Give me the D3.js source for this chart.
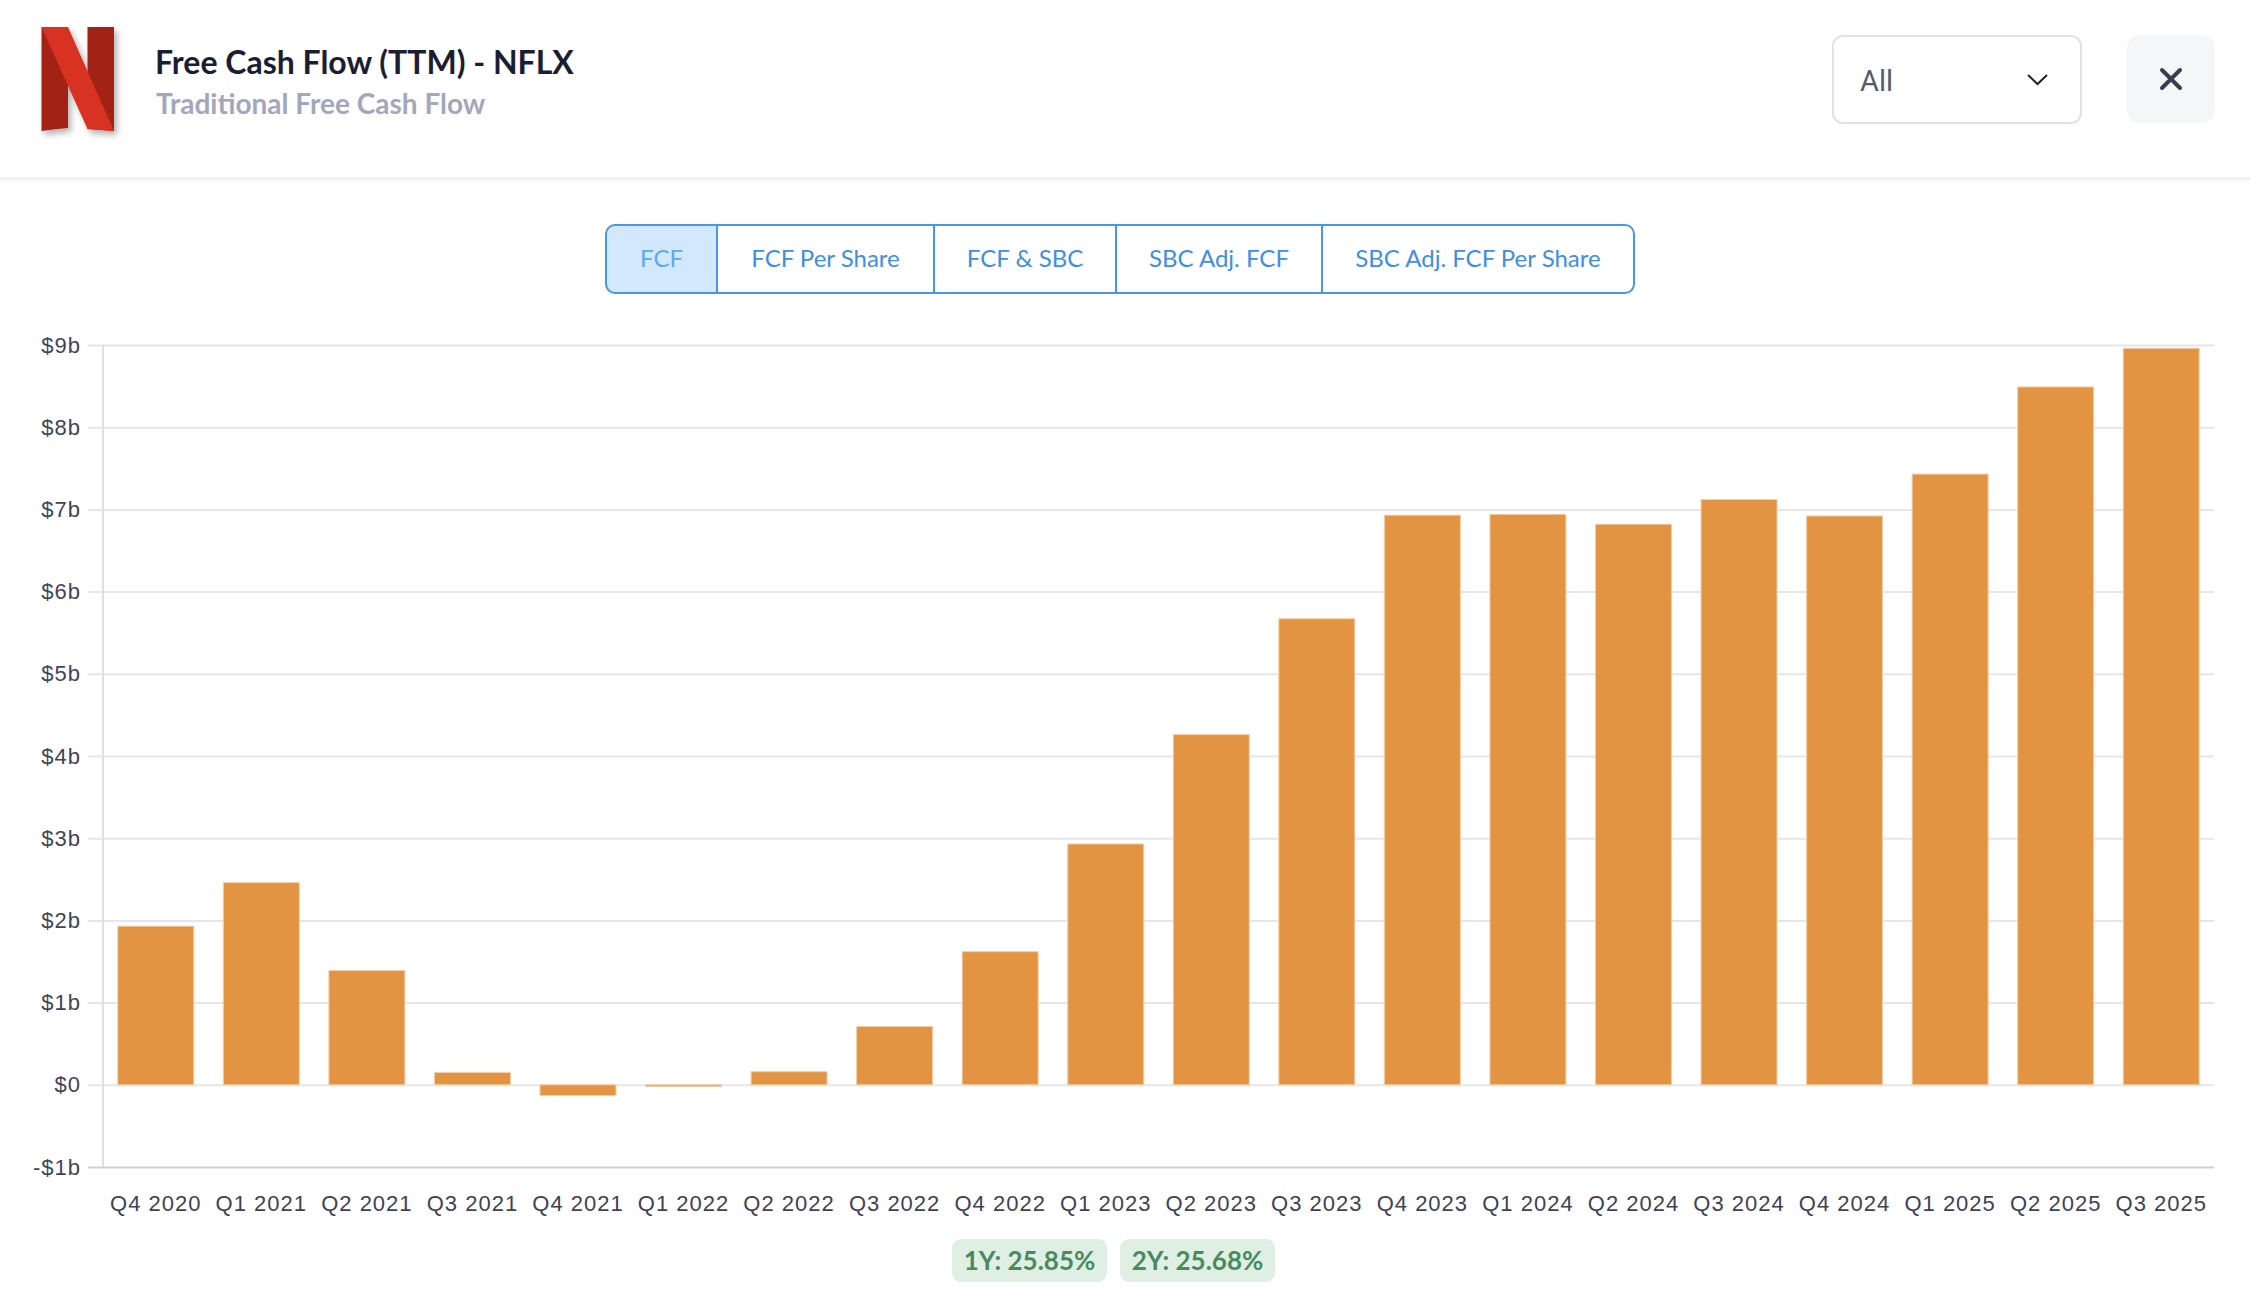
<!DOCTYPE html>
<html>
<head>
<meta charset="utf-8">
<script src="https://cdn.jsdelivr.net/npm/d3@7"></script>
<style>
  body { margin: 0; background: #fff; }
  svg { display: block; }
</style>
</head>
<body>
<div id="chart"></div>
<script>
// chart data
var quarters = ["Q4 2020", "Q1 2021", "Q2 2021", "Q3 2021", "Q4 2021", "Q1 2022", "Q2 2022",
  "Q3 2022", "Q4 2022", "Q1 2023", "Q2 2023", "Q3 2023", "Q4 2023", "Q1 2024", "Q2 2024",
  "Q3 2024", "Q4 2024", "Q1 2025", "Q2 2025", "Q3 2025"];
var fcfBillions = [1.93, 2.46, 1.39, 0.15, -0.13, -0.02, 0.16, 0.71, 1.62, 2.93, 4.26, 5.67,
  6.93, 6.94, 6.82, 7.12, 6.92, 7.43, 8.49, 8.96];
var yTicks = [-1, 0, 1, 2, 3, 4, 5, 6, 7, 8, 9];
var tabLabels = ["FCF", "FCF Per Share", "FCF & SBC", "SBC Adj. FCF", "SBC Adj. FCF Per Share"];
var growthLabels = ["1Y: 25.85%", "2Y: 25.68%"];
var titleText = "Free Cash Flow (TTM) - NFLX";
var subtitleText = "Traditional Free Cash Flow";
var periodText = "All";

var svgWidth = 2250;
var svgHeight = 1294;

var margin = { top: 345, right: 36, bottom: 127, left: 103 };
var width = svgWidth - margin.left - margin.right;
var height = svgHeight - margin.top - margin.bottom;

var svg = d3.select("#chart")
  .append("svg")
  .attr("width", svgWidth)
  .attr("height", svgHeight);

// ---------- header ----------
var header = svg.append("g");

// logo with soft shadow
var defs = svg.append("defs");
var shadow = defs.append("filter").attr("id", "logoShadow")
  .attr("x", "-30%").attr("y", "-30%").attr("width", "160%").attr("height", "160%");
shadow.append("feDropShadow").attr("dx", 3).attr("dy", 4).attr("stdDeviation", 3)
  .attr("flood-color", "#000").attr("flood-opacity", 0.3);

var logo = header.append("g").attr("filter", "url(#logoShadow)");
logo.append("path").attr("d", "M41.5,27 H68 V128 Q55,129 41.5,131 Z").attr("fill", "#a32117");
logo.append("path").attr("d", "M87.5,27 H114 V131 L87.5,129 Z").attr("fill", "#a32117");
logo.append("path").attr("d", "M41.5,27 H68 L114,131 Q101,130 87.5,129 Z").attr("fill", "#d73222");

header.append("text")
  .attr("x", 155).attr("y", 74)
  .attr("font-family", "Lato, sans-serif")
  .attr("font-weight", "bold")
  .attr("font-size", "32px")
  .attr("fill", "#1b1e33")
  .text(titleText);

header.append("text")
  .attr("x", 156).attr("y", 114)
  .attr("font-family", "Lato, sans-serif")
  .attr("font-weight", "bold")
  .attr("font-size", "28px")
  .attr("fill", "#a4a7bb")
  .text(subtitleText);

// period dropdown
header.append("rect")
  .attr("x", 1833).attr("y", 36).attr("width", 248).attr("height", 87).attr("rx", 10)
  .attr("fill", "#fff").attr("stroke", "#e1e1ea").attr("stroke-width", 2);
header.append("text")
  .attr("x", 1860).attr("y", 91)
  .attr("font-family", "Roboto, 'Liberation Sans', sans-serif")
  .attr("font-size", "29px")
  .attr("fill", "#565a6e")
  .text(periodText);
header.append("path")
  .attr("d", "M2028,75 L2037.5,84 L2047,75")
  .attr("fill", "none").attr("stroke", "#222").attr("stroke-width", 2);

// close button
header.append("rect")
  .attr("x", 2127).attr("y", 35).attr("width", 88).attr("height", 88).attr("rx", 13)
  .attr("fill", "#f5f6f8");
header.append("path")
  .attr("d", "M2162,70 L2180,88 M2180,70 L2162,88")
  .attr("stroke", "#3a3e4c").attr("stroke-width", 4).attr("stroke-linecap", "round");

// separator
svg.append("rect")
  .attr("x", 0).attr("y", 177).attr("width", svgWidth).attr("height", 3)
  .attr("fill", "#f0f1f6");

// ---------- tabs ----------
var tabEdges = [606, 717, 934, 1116, 1322, 1634];
var tabTop = 225, tabH = 68, tabR = 9;
var tabs = svg.append("g");

tabs.append("path")
  .attr("d", "M" + (tabEdges[0] + tabR) + "," + tabTop + " H" + tabEdges[1] + " V" + (tabTop + tabH) +
    " H" + (tabEdges[0] + tabR) + " Q" + tabEdges[0] + "," + (tabTop + tabH) + " " + tabEdges[0] + "," +
    (tabTop + tabH - tabR) + " V" + (tabTop + tabR) + " Q" + tabEdges[0] + "," + tabTop + " " +
    (tabEdges[0] + tabR) + "," + tabTop + " Z")
  .attr("fill", "#d3e8fc");

tabs.append("rect")
  .attr("x", tabEdges[0]).attr("y", tabTop)
  .attr("width", tabEdges[5] - tabEdges[0]).attr("height", tabH).attr("rx", tabR)
  .attr("fill", "none").attr("stroke", "#4896e6").attr("stroke-width", 2);

tabs.selectAll("line.div")
  .data(tabEdges.slice(1, 5))
  .enter().append("line")
  .attr("x1", d => d).attr("x2", d => d)
  .attr("y1", tabTop).attr("y2", tabTop + tabH)
  .attr("stroke", "#4896e6").attr("stroke-width", 2);

tabs.selectAll("text")
  .data(tabLabels)
  .enter().append("text")
  .attr("x", (d, i) => (tabEdges[i] + tabEdges[i + 1]) / 2)
  .attr("y", tabTop + tabH / 2 + 8)
  .attr("text-anchor", "middle")
  .attr("font-family", "Lato, sans-serif")
  .attr("font-size", "24px")
  .attr("fill", (d, i) => i === 0 ? "#5ea9ef" : "#3e8fe2")
  .text(d => d);

// ---------- chart ----------
var chartGroup = svg.append("g")
  .attr("transform", `translate(${margin.left}, ${margin.top})`);

var xBandScale = d3.scaleBand()
  .domain(quarters)
  .range([0, width])
  .paddingInner(0.28)
  .paddingOuter(0.14);

var yLinearScale = d3.scaleLinear()
  .domain([-1, 9])
  .range([height, 0]);

function fmtB(v) {
  if (v === 0) return "$0";
  return (v < 0 ? "-$" : "$") + Math.abs(v) + "b";
}

// gridlines
var grid = chartGroup.append("g")
  .call(d3.axisLeft(yLinearScale).tickValues(yTicks).tickSize(-width - 15).tickFormat(""))
  .attr("transform", "translate(-15,0)");
grid.select(".domain").remove();
grid.selectAll(".tick line")
  .attr("stroke", d => d === -1 ? "#cfcfd4" : "#e6e6e9")
  .attr("stroke-width", 2);

// y axis line
chartGroup.append("line")
  .attr("x1", 0).attr("x2", 0)
  .attr("y1", yLinearScale(9)).attr("y2", yLinearScale(-1))
  .attr("stroke", "#e0e0e4").attr("stroke-width", 2);

// y labels
var leftAxis = chartGroup.append("g")
  .call(d3.axisLeft(yLinearScale).tickValues(yTicks).tickSize(0).tickPadding(22).tickFormat(fmtB));
leftAxis.select(".domain").remove();
leftAxis.selectAll("text")
  .attr("font-family", "'Liberation Sans', Arial, sans-serif")
  .attr("font-size", "22px")
  .attr("letter-spacing", "1px")
  .attr("fill", "#414458");

// bars
chartGroup.selectAll("rect.bar")
  .data(fcfBillions)
  .enter().append("rect")
  .attr("class", "bar")
  .attr("x", (d, i) => xBandScale(quarters[i]))
  .attr("width", xBandScale.bandwidth())
  .attr("y", d => yLinearScale(Math.max(0, d)))
  .attr("height", d => Math.max(1.5, Math.abs(yLinearScale(d) - yLinearScale(0))))
  .attr("fill", "#e39443")
  .attr("stroke", "#f5cfa6")
  .attr("stroke-width", 1);

// x labels
var bottomAxis = chartGroup.append("g")
  .attr("transform", `translate(0, ${height})`)
  .call(d3.axisBottom(xBandScale).tickSize(0).tickPadding(28));
bottomAxis.select(".domain").remove();
bottomAxis.selectAll("text")
  .attr("font-family", "'Liberation Sans', Arial, sans-serif")
  .attr("font-size", "22px")
  .attr("letter-spacing", "1px")
  .attr("fill", "#3f4256");

// ---------- growth badges ----------
var badgeX = [952, 1120];
var badges = svg.selectAll("g.badge")
  .data(growthLabels)
  .enter().append("g")
  .attr("class", "badge")
  .attr("transform", (d, i) => `translate(${badgeX[i]}, 1239)`);
badges.append("rect")
  .attr("width", 155).attr("height", 43).attr("rx", 9)
  .attr("fill", "#dfefe4");
badges.append("text")
  .attr("x", 77.5).attr("y", 31)
  .attr("text-anchor", "middle")
  .attr("font-family", "Lato, sans-serif")
  .attr("font-weight", "bold")
  .attr("font-size", "26px")
  .attr("fill", "#4a8a5e")
  .text(d => d);
</script>
</body>
</html>
